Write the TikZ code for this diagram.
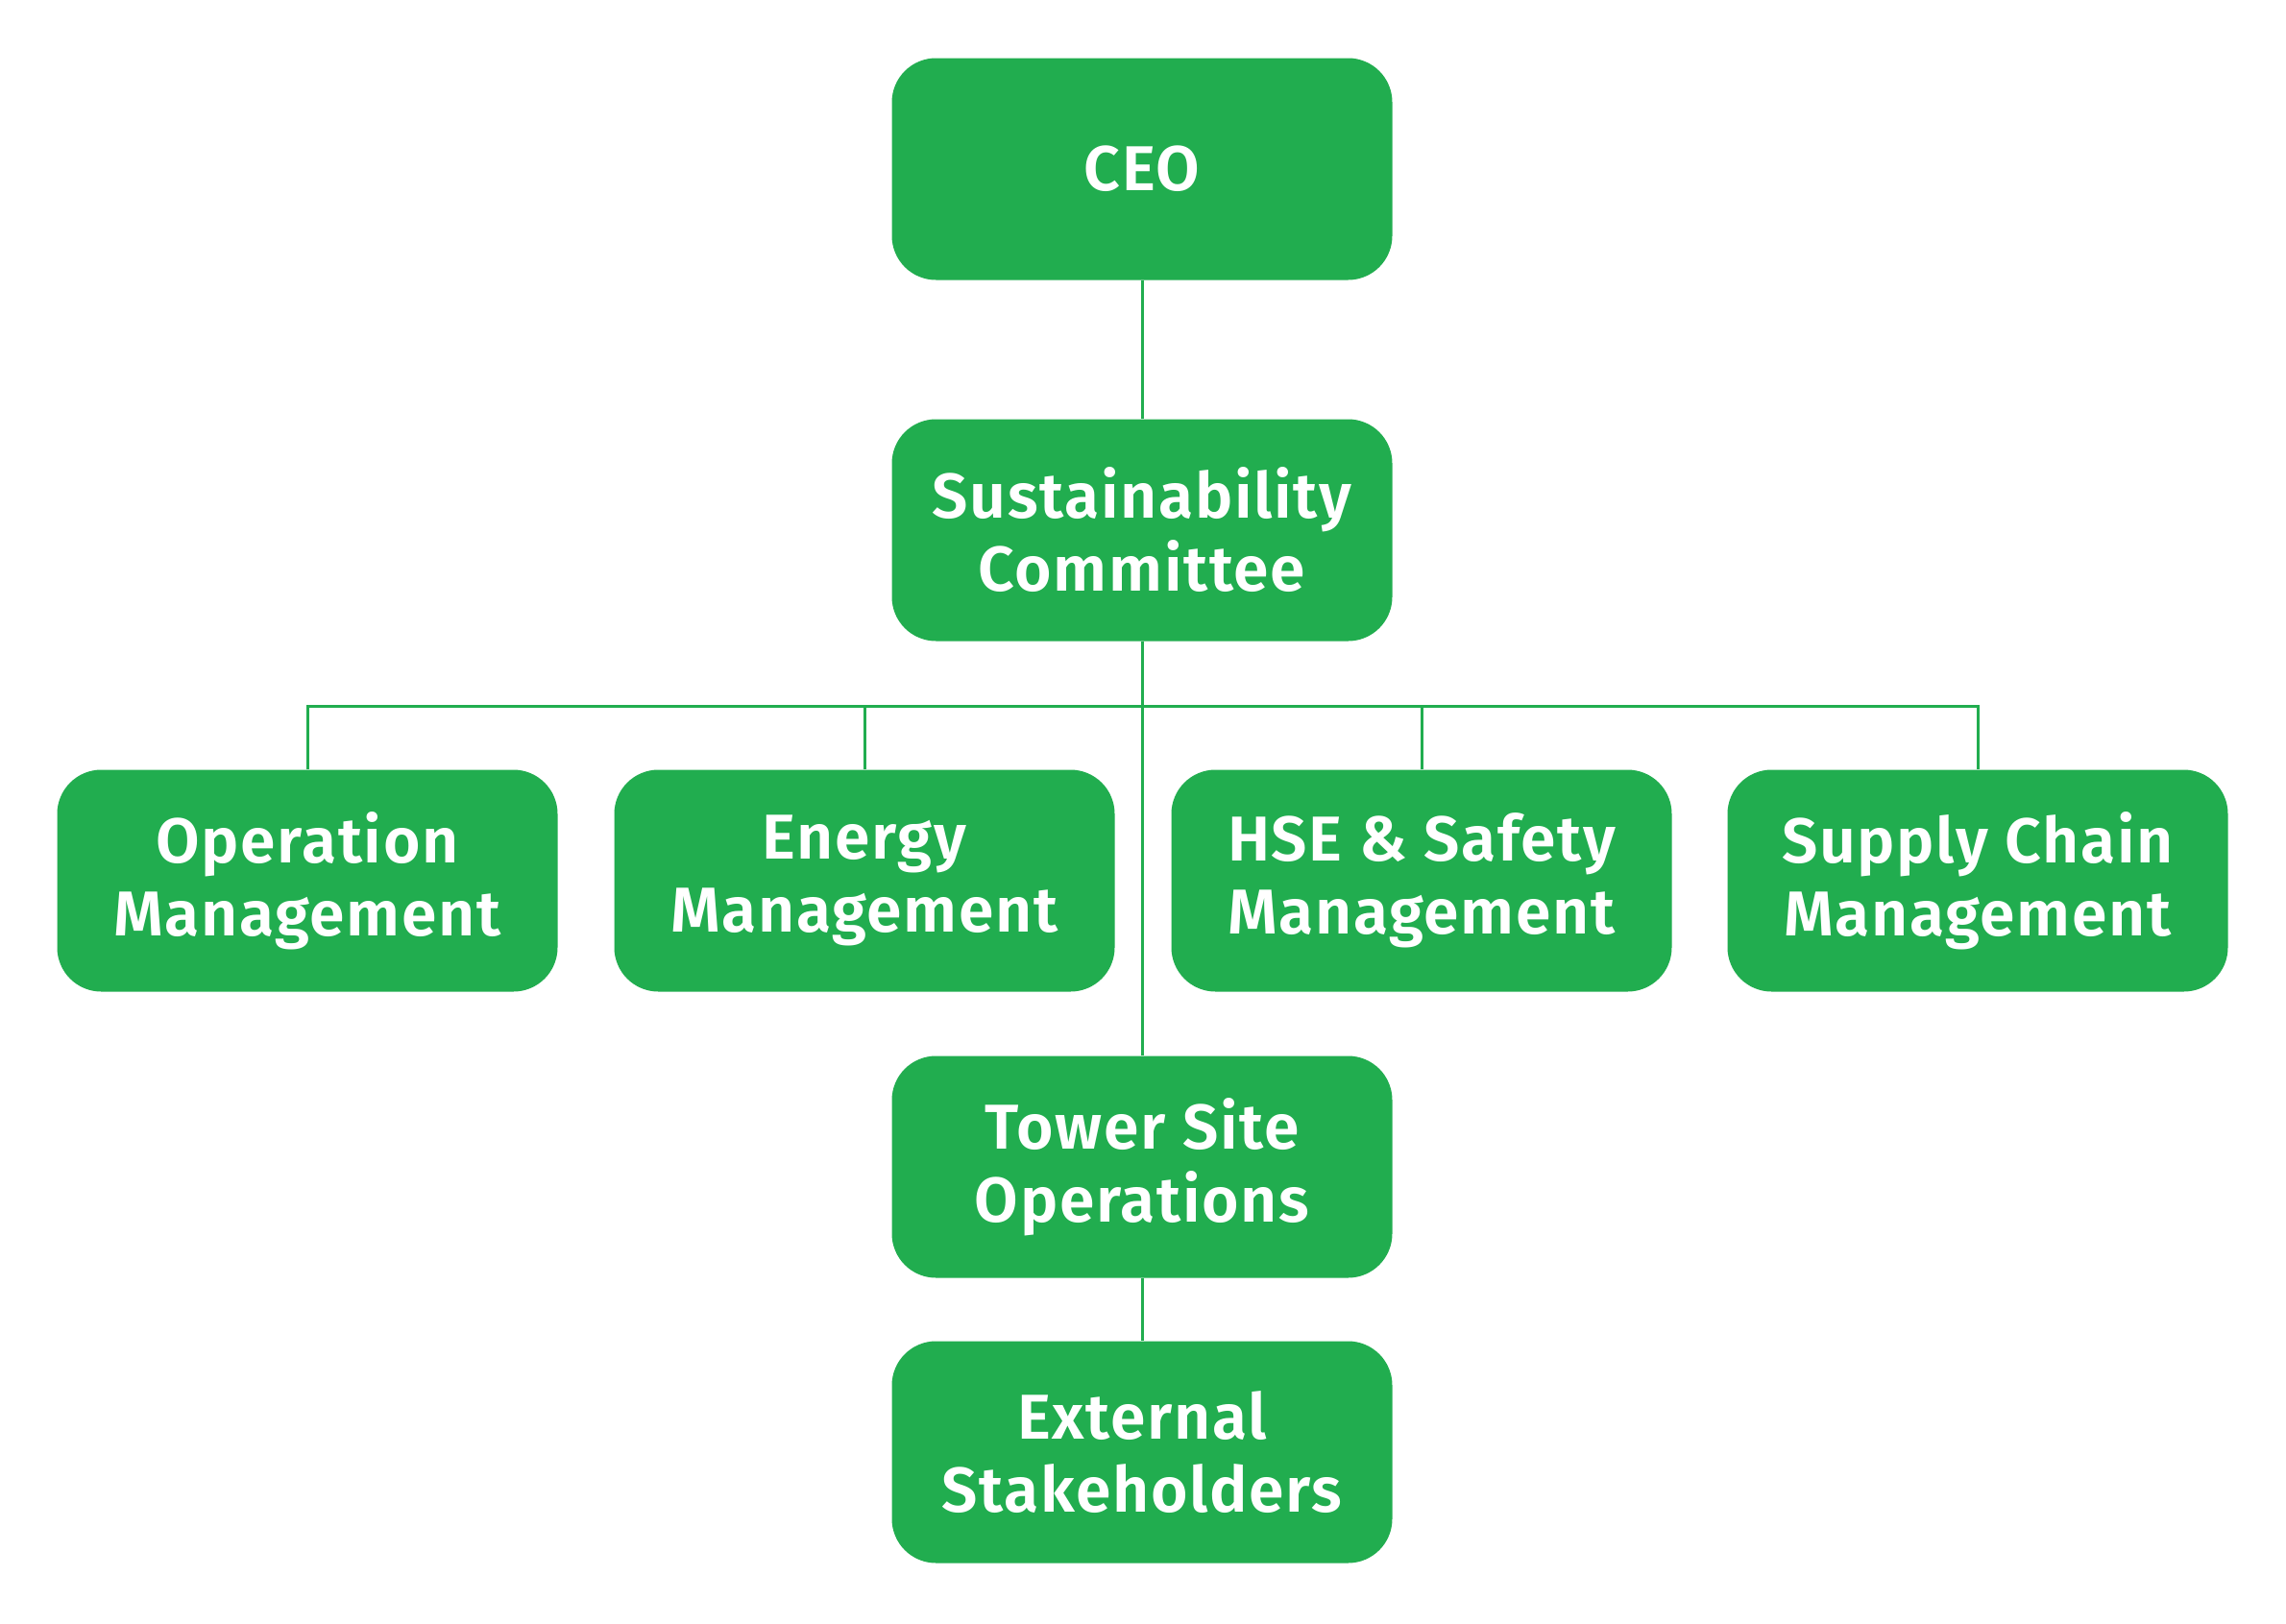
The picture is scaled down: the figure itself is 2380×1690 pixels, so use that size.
\documentclass[tikz,border=0pt]{standalone}
\usepackage{fontspec}
\newfontfamily\labfont[LetterSpace=2.5]{Fira Sans SemiBold}
\definecolor{boxgreen}{RGB}{33,173,79}
\begin{document}
\begin{tikzpicture}[x=1pt,y=-1pt,
  orgbox/.style={fill=boxgreen, draw=none, rounded corners=46pt,
    minimum width=521pt, minimum height=231pt, inner sep=0pt,
    text=white, align=center,
    font=\labfont\fontsize{66}{76}\selectfont},
  link/.style={draw=boxgreen, line width=3pt}]
\useasboundingbox (0,0) rectangle (2380,1690);
\fill[white] (0,0) rectangle (2380,1690);
\node[orgbox] (ceo) at (1189,176) {CEO};
\node[orgbox] (sc) at (1189,552) {Sustainability\\Committee};
\node[orgbox] (op) at (320,917) {Operation\\Management};
\node[orgbox] (en) at (900,917) {Energy\\Management};
\node[orgbox] (hse) at (1480,917) {HSE \& Safety\\Management};
\node[orgbox] (sup) at (2059,917) {Supply Chain\\Management};
\node[orgbox] (tow) at (1189,1215) {Tower Site\\Operations};
\node[orgbox] (ext) at (1189,1512) {External\\Stakeholders};
\coordinate (bus) at (1189,735);
\path[link] (ceo.south) -- (sc.north);
\path[link] (sc.south) -- (tow.north);
\path[link] (tow.south) -- (ext.north);
\path[link] (op.north) |- (bus) -| (sup.north);
\path[link] (en.north) |- (bus);
\path[link] (hse.north) |- (bus);
\end{tikzpicture}
\end{document}
